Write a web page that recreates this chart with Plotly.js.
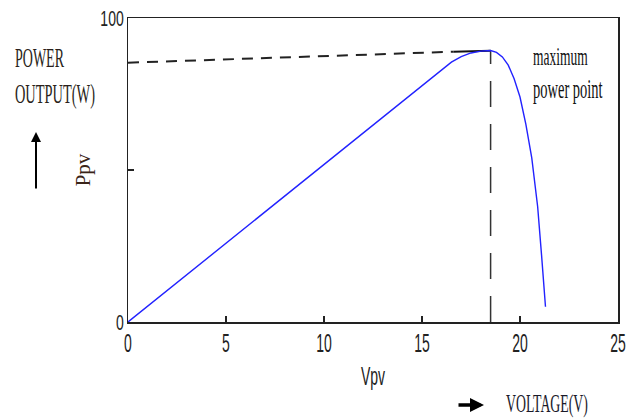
<!DOCTYPE html>
<html>
<head>
<meta charset="utf-8">
<script src="https://cdn.plot.ly/plotly-3.0.1.min.js"></script>
<style>html,body{margin:0;padding:0;background:#fff;}#chart{width:638px;height:419px;}</style>
</head>
<body>
<div id="chart"></div>
<script>
// PV power curve data
const vpv = [0, 2, 4, 6, 8, 10, 12, 14, 16, 16.5, 17, 17.5, 18, 18.5, 18.8, 19.1, 19.4, 19.7, 20.0, 20.3, 20.6, 20.9, 21.1, 21.3];
const ppv = [0, 10.4, 20.8, 31.2, 41.6, 52, 62.4, 72.8, 83.2, 85.5, 87.3, 88.5, 89.1, 89.3, 88.7, 87.2, 84.5, 80, 74, 65, 54, 38, 22, 5];
// maximum power point guide lines
const mppDashX = [0, 16.6];
const mppDashY = [85.3, 88.9];
const mppSolidX = [16.6, 18.5];
const mppSolidY = [88.9, 89.2];
const mppVertX = [18.5, 18.5];
const mppVertY = [0, 89.2];
const xTicks = [0, 5, 10, 15, 20, 25];
const yTicks = [0, 50, 100];
const yTickText = ['0', '', '100'];

const L = 128, R = 20, T = 18, B = 97, W = 638, H = 419;
const pw = W - L - R, ph = H - T - B;
const px = p => (p - L) / pw;
const py = p => (H - B - p) / ph;

const serif = 'Liberation Serif, Times New Roman, serif';
const sans = 'Liberation Sans, Arial, sans-serif';

const traces = [
  {x: mppDashX, y: mppDashY, mode: 'lines', line: {color: '#222', width: 2, dash: '11px,8px'}, hoverinfo: 'skip'},
  {x: mppSolidX, y: mppSolidY, mode: 'lines', line: {color: '#111', width: 2}, hoverinfo: 'skip'},
  {x: mppVertX, y: mppVertY, mode: 'lines', line: {color: '#333', width: 1.5, dash: '26px,17px'}, hoverinfo: 'skip'},
  {x: vpv, y: ppv, mode: 'lines', line: {color: '#2222ff', width: 1.4}, hoverinfo: 'skip'}
];

const layout = {
  width: W, height: H,
  margin: {l: L, r: R, t: T, b: B},
  paper_bgcolor: '#fff', plot_bgcolor: '#fff',
  showlegend: false,
  xaxis: {
    range: [0, 25], tickvals: xTicks, ticks: 'inside', ticklen: 6, tickcolor: '#222', tickwidth: 1.5,
    showline: true, mirror: true, linecolor: '#222', linewidth: 1.5, showgrid: false, zeroline: false,
    ticklabelstandoff: 8,
    tickfont: {family: sans, size: 14, color: '#222'},
    title: {text: 'Vpv', font: {family: sans, size: 14, color: '#222'}, standoff: 20}
  },
  yaxis: {
    range: [0, 100], tickvals: yTicks, ticktext: yTickText, ticks: 'inside', ticklen: 6, tickcolor: '#222', tickwidth: 1.5,
    showline: true, mirror: true, linecolor: '#222', linewidth: 1.5, showgrid: false, zeroline: false,
    tickfont: {family: sans, size: 14, color: '#222'},
    title: {text: 'Ppv', font: {family: serif, size: 21, color: '#3a2418'}, standoff: 4}
  },
  annotations: [
    {xref: 'paper', yref: 'paper', x: px(13), y: py(59), xanchor: 'left', yanchor: 'middle', text: 'POWER', showarrow: false, font: {family: serif, size: 14, color: '#2a1f1a'}},
    {xref: 'paper', yref: 'paper', x: px(13), y: py(94), xanchor: 'left', yanchor: 'middle', text: 'OUTPUT(W)', showarrow: false, font: {family: serif, size: 14.4, color: '#2a1f1a'}},
    {xref: 'paper', yref: 'paper', x: px(531), y: py(56), xanchor: 'left', yanchor: 'middle', text: 'maximum', showarrow: false, font: {family: serif, size: 13.5, color: '#111'}},
    {xref: 'paper', yref: 'paper', x: px(531), y: py(89), xanchor: 'left', yanchor: 'middle', text: 'power point', showarrow: false, font: {family: serif, size: 14.5, color: '#111'}},
    {xref: 'paper', yref: 'paper', x: px(504), y: py(404), xanchor: 'left', yanchor: 'middle', text: 'VOLTAGE(V)', showarrow: false, font: {family: serif, size: 13.8, color: '#1a1a2a'}},
    {xref: 'paper', yref: 'paper', axref: 'pixel', ayref: 'pixel', x: px(36), y: py(132), ax: 0, ay: 58, text: '', showarrow: true, arrowhead: 2, arrowsize: 1, arrowwidth: 2, arrowcolor: '#000'},
    {xref: 'paper', yref: 'paper', x: px(484), y: py(405), ax: -27, ay: 0, text: '', showarrow: true, arrowhead: 2, arrowsize: 0.8, arrowwidth: 3.5, arrowcolor: '#000'}
  ]
};

function stretch(root, selector, sy) {
  root.querySelectorAll(selector).forEach(el => {
    if (!el.textContent) return;
    const b = el.getBBox();
    const cx = b.x + b.width / 2, cy = b.y + b.height / 2;
    const t = el.getAttribute('transform') || '';
    el.setAttribute('transform', t + ' translate(' + cx + ',' + cy + ') scale(1,' + sy + ') translate(' + (-cx) + ',' + (-cy) + ')');
  });
}

Plotly.newPlot('chart', traces, layout, {staticPlot: true, displayModeBar: false}).then(gd => {
  stretch(gd, '.xtick text', 1.8);
  stretch(gd, '.ytick text', 1.6);
  stretch(gd, '.g-xtitle text', 1.9);
  stretch(gd, '.annotation-text', 1.9);
});
</script>
</body>
</html>
